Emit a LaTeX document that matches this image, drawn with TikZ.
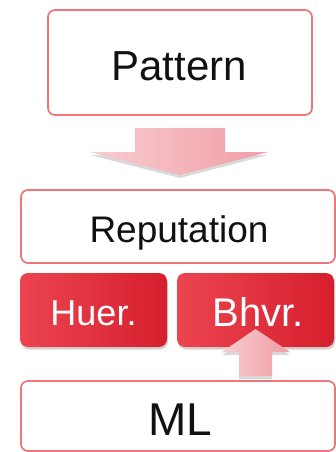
\documentclass[tikz,border=0pt]{standalone}
\usepackage{fontspec}
\setmainfont{Liberation Sans}
\usetikzlibrary{shadows,calc}
\definecolor{boxline}{HTML}{F07479}
\definecolor{redA}{HTML}{EC4450}
\definecolor{redB}{HTML}{D61F2D}
\definecolor{pinkA}{HTML}{F8CDD1}
\definecolor{pinkB}{HTML}{F09DA5}
\definecolor{txt}{HTML}{111111}
\tikzset{
  whitebox/.style={draw=boxline, line width=1.7pt, fill=white, rounded corners=7pt, inner sep=0pt},
  redbox/.style={draw=none, left color=redA, right color=redB, rounded corners=8pt, inner sep=0pt,
    drop shadow={shadow xshift=1pt, shadow yshift=-2.5pt, opacity=0.35}},
  fatarrow/.style={draw=none, left color=pinkA, right color=pinkB,
    drop shadow={shadow xshift=0pt, shadow yshift=-3pt, opacity=0.3}},
  lbl/.style={anchor=base, inner sep=0pt, text=txt},
  wlbl/.style={anchor=base, inner sep=0pt, text=white},
}
\begin{document}
\begin{tikzpicture}[x=1pt,y=-1pt]
\useasboundingbox (0,0) rectangle (336,452);
\begin{scope}
\clip (0,0) rectangle (336,452);
% boxes
\node[whitebox, minimum width=264pt, minimum height=105pt] (pat) at (180,62.5) {};
\node[whitebox, minimum width=314pt, minimum height=73pt] (rep) at (178,226.5) {};
\node[whitebox, minimum width=314pt, minimum height=70pt] (ml) at (178,416) {};
\node[redbox, minimum width=147pt, minimum height=74pt] (hue) at (93.5,310) {};
\node[redbox, minimum width=157pt, minimum height=74pt] (bhv) at (255.5,310) {};
% labels
\node[lbl, font=\fontsize{42}{48}\selectfont] (tpat) at (179,80) {Pattern};
\node[lbl, font=\fontsize{37}{42}\selectfont] (trep) at (179,242) {Reputation};
\node[wlbl, font=\fontsize{36}{42}\selectfont] (thue) at (93.5,325) {Huer.};
\node[wlbl, font=\fontsize{40}{46}\selectfont] (tbhv) at (258.5,326) {Bhvr.};
\node[lbl, font=\fontsize{46}{52}\selectfont] (tml) at (180,435) {ML};
% down arrow from Pattern to Reputation
\path[fatarrow] (135,128) -- (225,128) -- (225,152) -- (268,152) -- (180,175)
  -- (90,152) -- (135,152) -- cycle;
% up arrow from ML to Bhvr.
\path[fatarrow] (239,376) -- (272,376) -- (272,352) -- (290,352) -- (255.5,329)
  -- (222,352) -- (239,352) -- cycle;
\end{scope}
\end{tikzpicture}
\end{document}
